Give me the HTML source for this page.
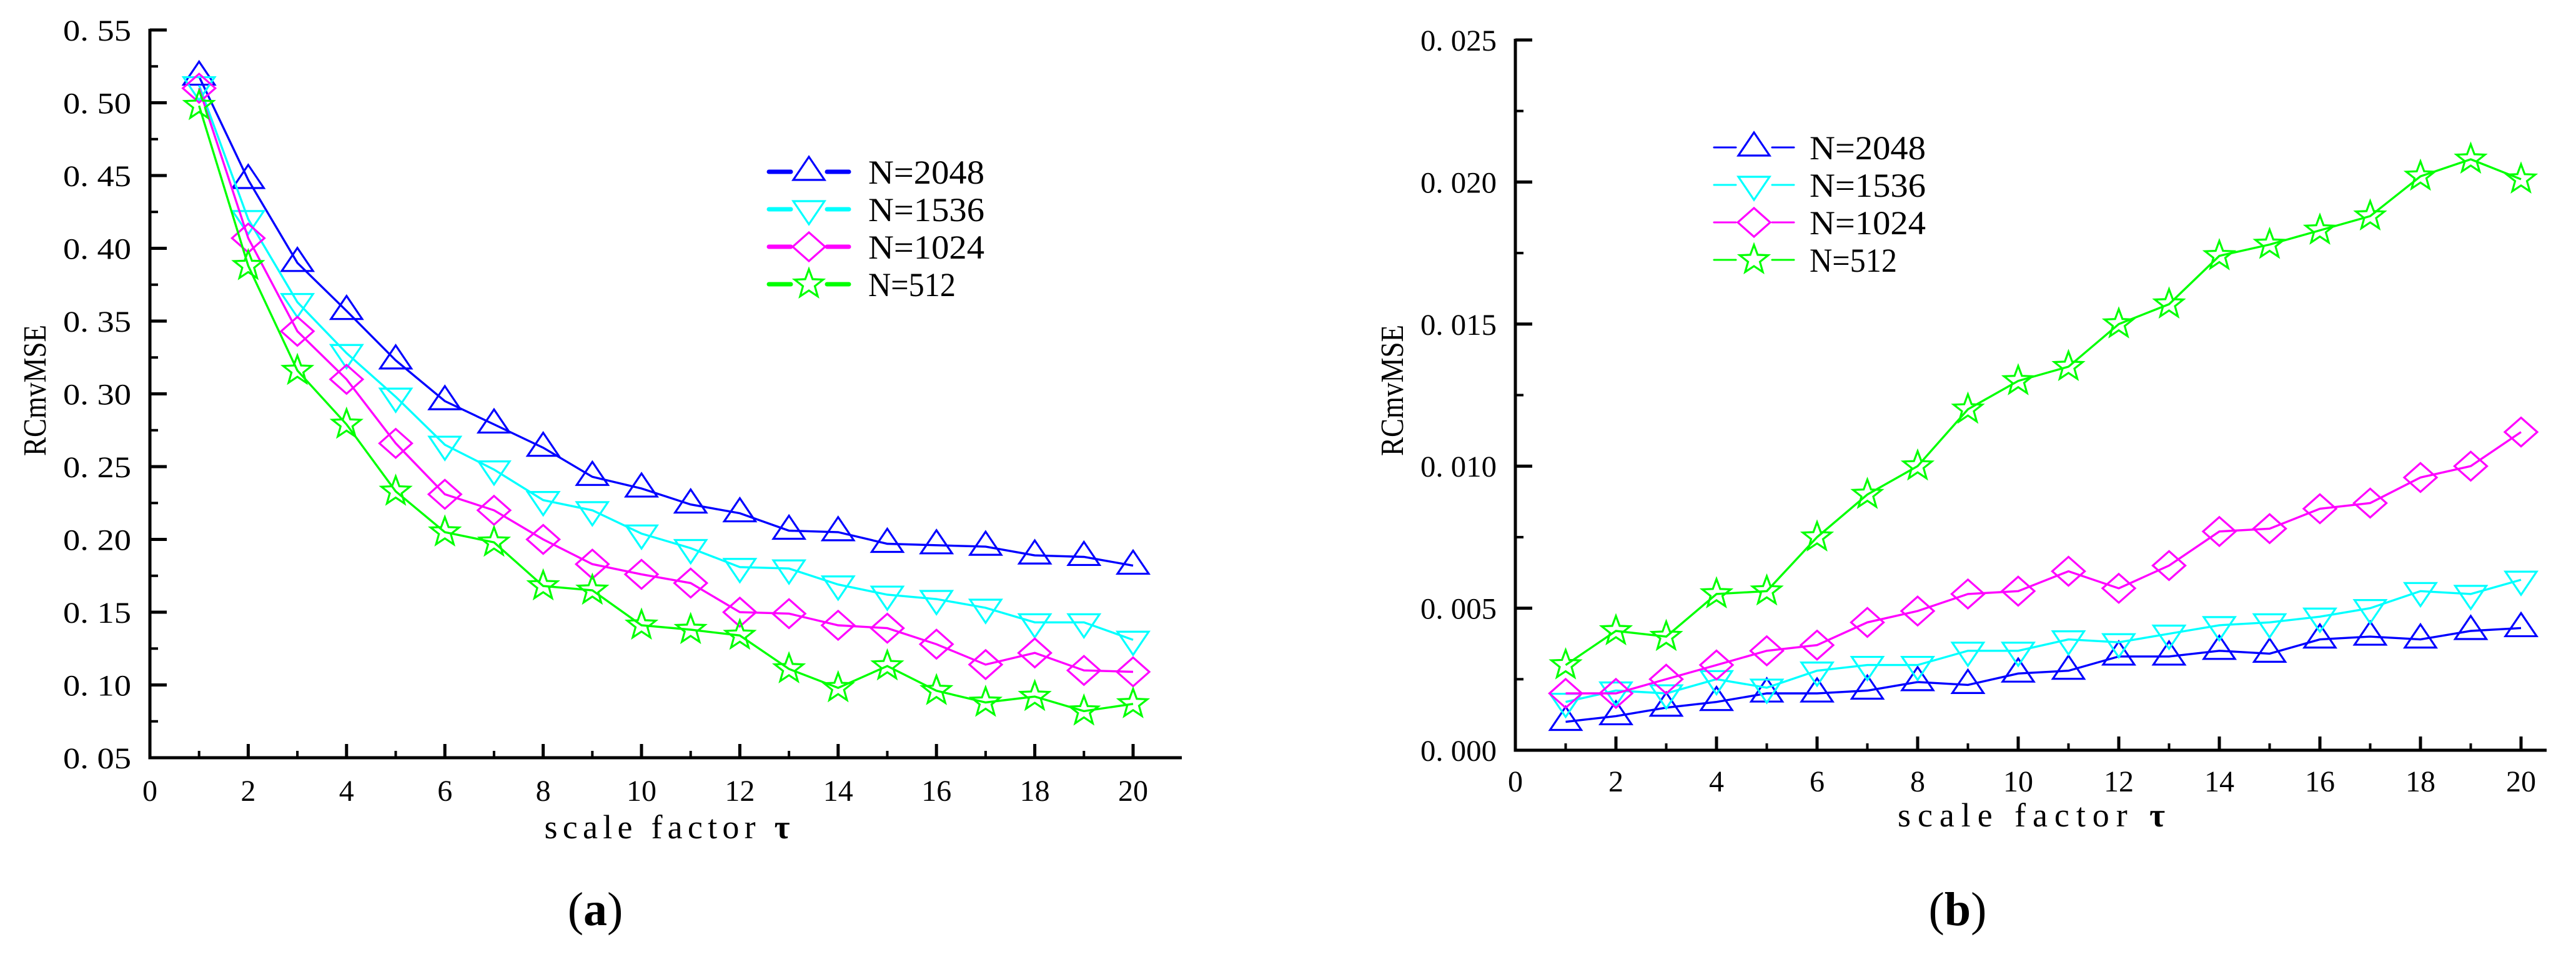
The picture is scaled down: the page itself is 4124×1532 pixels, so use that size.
<!DOCTYPE html>
<html><head><meta charset="utf-8"><style>
html,body{margin:0;padding:0;background:#fff;width:4124px;height:1532px;overflow:hidden}
svg text{font-family:"Liberation Serif",serif;fill:#000}
</style></head><body>
<svg id="fig" width="4124" height="1532" viewBox="0 0 4124 1532" xmlns="http://www.w3.org/2000/svg"></svg>
<script>
const xCats = [1,2,3,4,5,6,7,8,9,10,11,12,13,14,15,16,17,18,19,20];
const seriesNames = ["N=2048","N=1536","N=1024","N=512"];
const aN2048 = [0.518,0.447,0.390,0.357,0.323,0.295,0.279,0.263,0.243,0.235,0.224,0.218,0.206,0.205,0.197,0.196,0.195,0.189,0.188,0.182];
const aN1536 = [0.512,0.420,0.363,0.328,0.298,0.265,0.248,0.227,0.220,0.204,0.194,0.181,0.180,0.169,0.162,0.159,0.153,0.143,0.143,0.131];
const aN1024 = [0.510,0.407,0.343,0.310,0.266,0.231,0.220,0.200,0.183,0.176,0.170,0.150,0.149,0.141,0.139,0.128,0.114,0.122,0.110,0.109];
const aN512 = [0.498,0.388,0.316,0.279,0.233,0.205,0.198,0.168,0.165,0.141,0.138,0.134,0.111,0.098,0.113,0.096,0.088,0.092,0.082,0.087];
const bN2048 = [0.0010,0.0012,0.0015,0.0017,0.0020,0.0020,0.0021,0.0024,0.0023,0.0027,0.0028,0.0033,0.0033,0.0035,0.0034,0.0039,0.0040,0.0039,0.0042,0.0043];
const bN1536 = [0.0017,0.0021,0.0020,0.0025,0.0022,0.0028,0.0030,0.0030,0.0035,0.0035,0.0039,0.0038,0.0041,0.0044,0.0045,0.0047,0.0050,0.0056,0.0055,0.0060];
const bN1024 = [0.0020,0.0020,0.0025,0.0030,0.0035,0.0037,0.0045,0.0049,0.0055,0.0056,0.0063,0.0057,0.0065,0.0077,0.0078,0.0085,0.0087,0.0096,0.0100,0.0112];
const bN512 = [0.0030,0.0042,0.0040,0.0055,0.0056,0.0075,0.0090,0.0100,0.0120,0.0130,0.0135,0.0150,0.0157,0.0174,0.0178,0.0183,0.0188,0.0202,0.0208,0.0201];
const xTickLabels = ["0","2","4","6","8","10","12","14","16","18","20"];
const aYTickLabels = ["0. 05","0. 10","0. 15","0. 20","0. 25","0. 30","0. 35","0. 40","0. 45","0. 50","0. 55"];
const bYTickLabels = ["0. 000","0. 005","0. 010","0. 015","0. 020","0. 025"];

const NS="http://www.w3.org/2000/svg";
const svg=document.getElementById('fig');
function mk(tag,attrs,parent){const e=document.createElementNS(NS,tag);for(const k in attrs)e.setAttribute(k,attrs[k]);(parent||svg).appendChild(e);return e;}
const colors=["#0000ff","#00ffff","#ff00ff","#00ff00"];
const shapes=["up","down","diamond","star"];

function marker(g,shape,cx,cy,color){
  let p;
  if(shape==="up") p=`${cx},${cy-24} ${cx+25},${cy+13} ${cx-25},${cy+13}`;
  else if(shape==="down") p=`${cx-25},${cy-13} ${cx+25},${cy-13} ${cx},${cy+24}`;
  else if(shape==="diamond") p=`${cx},${cy-23} ${cx+26},${cy} ${cx},${cy+23} ${cx-26},${cy}`;
  else {const pts=[];for(let i=0;i<10;i++){const r=i%2?10:24;const a=-Math.PI/2+i*Math.PI/5;pts.push((cx+r*Math.cos(a)).toFixed(1)+","+(cy+r*Math.sin(a)).toFixed(1));}p=pts.join(" ");}
  return mk('polygon',{points:p,fill:'none',stroke:color,'stroke-width':3.2},g);
}

function chart(cfg){
  const g=mk('g',{});
  
  
  const xs=v=>cfg.x0+(v-0)*(cfg.x20-cfg.x0)/20;
  const ys=v=>cfg.yBot+(v-cfg.yMin)*(cfg.yTop-cfg.yBot)/(cfg.yMax-cfg.yMin);
  const ax=mk('path',{d:`M${cfg.x0},${cfg.yTop-2} L${cfg.x0},${cfg.yBot} L${cfg.xEnd},${cfg.yBot}`,fill:'none',stroke:'#000','stroke-width':5},g);
  
  
  const ny=cfg.yLabels.length;
  for(let i=0;i<ny;i++){
    const v=cfg.yMin+i*cfg.yStep;const y=ys(v);
    mk('line',{x1:cfg.x0,y1:y,x2:cfg.x0+27,y2:y,stroke:'#000','stroke-width':5},g);
    if(i<ny-1){const ym=ys(v+cfg.yStep/2);mk('line',{x1:cfg.x0,y1:ym,x2:cfg.x0+13,y2:ym,stroke:'#000','stroke-width':4},g);}
    const t=mk('text',{x:cfg.yLabRight,y:y+17,'text-anchor':'end','font-size':48,textLength:cfg.yLabW,lengthAdjust:'spacingAndGlyphs'},g);
    t.textContent=cfg.yLabels[i];
    
    
  }
  for(let v=0;v<=20;v++){
    const x=xs(v);
    if(v%2===0){mk('line',{x1:x,y1:cfg.yBot,x2:x,y2:cfg.yBot-22,stroke:'#000','stroke-width':5},g);
      const t=mk('text',{x:x,y:cfg.xLabY+17,'text-anchor':'middle','font-size':48},g);
      t.textContent=xTickLabels[v/2];
      
      }
    else mk('line',{x1:x,y1:cfg.yBot,x2:x,y2:cfg.yBot-11,stroke:'#000','stroke-width':4},g);
  }
  const xt=mk('text',{x:cfg.xTitleX,y:cfg.xTitleY+17,'text-anchor':'middle','font-size':54,textLength:cfg.xTitleW,lengthAdjust:'spacing'},g);
  xt.innerHTML='scale factor <tspan font-weight="bold">τ</tspan>';
  
  
  const yt=mk('text',{x:0,y:0,'text-anchor':'middle','font-size':52,transform:`translate(${cfg.yTitleX+18},${cfg.yTitleY}) rotate(-90)`,textLength:210,lengthAdjust:'spacingAndGlyphs'},g);
  yt.textContent='RCmvMSE';
  
  
  const pl=mk('text',{x:cfg.panelX,y:cfg.panelY+26,'text-anchor':'middle','font-size':76},g);
  pl.innerHTML='(<tspan font-weight="bold">'+cfg.panel+'</tspan>)';
  
  
  cfg.data.forEach((arr,si)=>{
    const sg=mk('g',{},g);
    
    
    const d=arr.map((v,i)=>(i?'L':'M')+xs(xCats[i]).toFixed(1)+','+ys(v).toFixed(1)).join(' ');
    const ln=mk('path',{d:d,fill:'none',stroke:colors[si],'stroke-width':3.4},sg);
    
    
    arr.forEach((v,i)=>{const m=marker(sg,shapes[si],xs(xCats[i]),ys(v),colors[si]);
      
      });
  });
  const lg=mk('g',{},g);
  
  
  seriesNames.forEach((n,si)=>{
    const y=cfg.legY0+si*cfg.legDy, cx=cfg.legX+64;
    const e=mk('g',{},lg);
    
    
    mk('line',{x1:cfg.legX,y1:y,x2:cfg.legX+35,y2:y,stroke:colors[si],'stroke-width':cfg.legLW,'stroke-linecap':'round'},e);
    mk('line',{x1:cfg.legX+93,y1:y,x2:cfg.legX+128,y2:y,stroke:colors[si],'stroke-width':cfg.legLW,'stroke-linecap':'round'},e);
    marker(e,shapes[si],cx,y,colors[si]);
    const t=mk('text',{x:cfg.legX+cfg.legTx,y:y+19,'font-size':54,textLength:n.length===5?140:186,lengthAdjust:'spacingAndGlyphs'},e);
    t.textContent=n;
  });
}

chart({name:'chart-a',panel:'a',x0:240,x20:1814,xEnd:1892,yTop:48,yBot:1213,yMin:0.05,yMax:0.55,yStep:0.05,
  yLabels:aYTickLabels,yLabRight:210,yLabW:109,xLabY:1265,xTitleX:1068,xTitleY:1325,xTitleW:393,
  yTitleX:55,yTitleY:625,panelX:953,panelY:1455,data:[aN2048,aN1536,aN1024,aN512],
  legX:1231,legY0:275,legDy:60,legLW:7,legTx:159});
chart({name:'chart-b',panel:'b',x0:2426,x20:4036,xEnd:4077,yTop:64,yBot:1201,yMin:0,yMax:0.025,yStep:0.005,
  yLabels:bYTickLabels,yLabRight:2396,yLabW:122,xLabY:1250,xTitleX:3252,xTitleY:1306,xTitleW:428,
  yTitleX:2228,yTitleY:625,panelX:3134,panelY:1455,data:[bN2048,bN1536,bN1024,bN512],
  legX:2744,legY0:236,legDy:60,legLW:3,legTx:153});
</script>
</body></html>
